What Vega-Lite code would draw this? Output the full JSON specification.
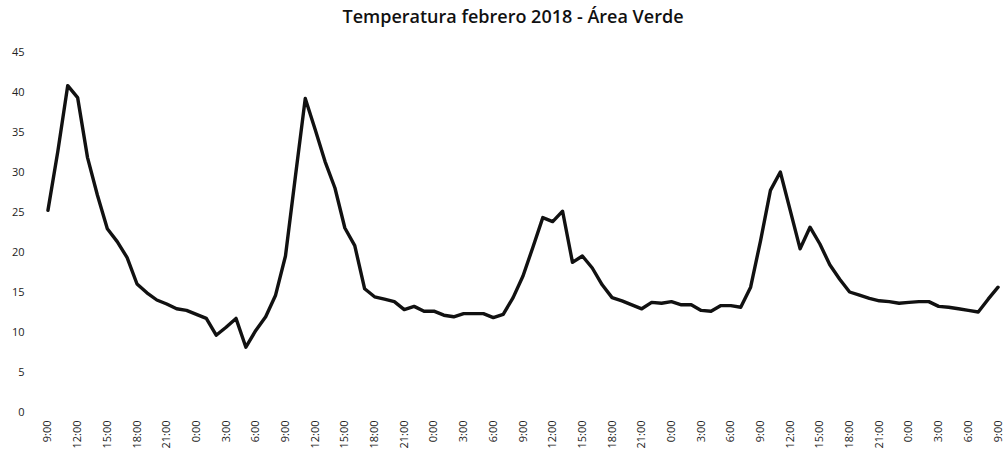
{
  "$schema": "https://vega.github.io/schema/vega-lite/v6.json",
  "autosize": "none",
  "width": 960,
  "height": 360,
  "padding": {"left": 43, "top": 52, "right": 2, "bottom": 63},
  "background": "white",
  "title": {
    "text": "Temperatura febrero 2018 - Área Verde",
    "font": "Open Sans",
    "fontSize": 18,
    "fontWeight": 600,
    "color": "#111",
    "anchor": "middle",
    "offset": 19,
    "dx": -10
  },
  "data": {
    "values": [
      {"h": 0, "t": 25.2}, {"h": 1, "t": 32.6}, {"h": 2, "t": 40.8}, {"h": 3, "t": 39.3},
      {"h": 4, "t": 31.8}, {"h": 5, "t": 27.1}, {"h": 6, "t": 22.9}, {"h": 7, "t": 21.3},
      {"h": 8, "t": 19.3}, {"h": 9, "t": 16.0}, {"h": 10, "t": 14.9}, {"h": 11, "t": 14.0},
      {"h": 12, "t": 13.5}, {"h": 13, "t": 12.9}, {"h": 14, "t": 12.7}, {"h": 15, "t": 12.2},
      {"h": 16, "t": 11.7}, {"h": 17, "t": 9.6}, {"h": 18, "t": 10.6}, {"h": 19, "t": 11.7},
      {"h": 20, "t": 8.1}, {"h": 21, "t": 10.2}, {"h": 22, "t": 11.9}, {"h": 23, "t": 14.6},
      {"h": 24, "t": 19.5}, {"h": 25, "t": 29.4}, {"h": 26, "t": 39.2}, {"h": 27, "t": 35.3},
      {"h": 28, "t": 31.3}, {"h": 29, "t": 28.0}, {"h": 30, "t": 23.0}, {"h": 31, "t": 20.8},
      {"h": 32, "t": 15.4}, {"h": 33, "t": 14.4}, {"h": 34, "t": 14.1}, {"h": 35, "t": 13.8},
      {"h": 36, "t": 12.8}, {"h": 37, "t": 13.2}, {"h": 38, "t": 12.6}, {"h": 39, "t": 12.6},
      {"h": 40, "t": 12.1}, {"h": 41, "t": 11.9}, {"h": 42, "t": 12.3}, {"h": 43, "t": 12.3},
      {"h": 44, "t": 12.3}, {"h": 45, "t": 11.8}, {"h": 46, "t": 12.2}, {"h": 47, "t": 14.3},
      {"h": 48, "t": 17.0}, {"h": 49, "t": 20.6}, {"h": 50, "t": 24.3}, {"h": 51, "t": 23.8},
      {"h": 52, "t": 25.1}, {"h": 53, "t": 18.7}, {"h": 54, "t": 19.5}, {"h": 55, "t": 18.0},
      {"h": 56, "t": 15.9}, {"h": 57, "t": 14.3}, {"h": 58, "t": 13.9}, {"h": 59, "t": 13.4},
      {"h": 60, "t": 12.9}, {"h": 61, "t": 13.7}, {"h": 62, "t": 13.6}, {"h": 63, "t": 13.8},
      {"h": 64, "t": 13.4}, {"h": 65, "t": 13.4}, {"h": 66, "t": 12.7}, {"h": 67, "t": 12.6},
      {"h": 68, "t": 13.3}, {"h": 69, "t": 13.3}, {"h": 70, "t": 13.1}, {"h": 71, "t": 15.6},
      {"h": 72, "t": 21.4}, {"h": 73, "t": 27.7}, {"h": 74, "t": 30.0}, {"h": 75, "t": 25.2},
      {"h": 76, "t": 20.4}, {"h": 77, "t": 23.1}, {"h": 78, "t": 21.0}, {"h": 79, "t": 18.4},
      {"h": 80, "t": 16.6}, {"h": 81, "t": 15.0}, {"h": 82, "t": 14.6}, {"h": 83, "t": 14.2},
      {"h": 84, "t": 13.9}, {"h": 85, "t": 13.8}, {"h": 86, "t": 13.6}, {"h": 87, "t": 13.7},
      {"h": 88, "t": 13.8}, {"h": 89, "t": 13.8}, {"h": 90, "t": 13.2}, {"h": 91, "t": 13.1},
      {"h": 92, "t": 12.9}, {"h": 93, "t": 12.7}, {"h": 94, "t": 12.5}, {"h": 95, "t": 14.1},
      {"h": 96, "t": 15.6}
    ]
  },
  "mark": {"type": "line", "color": "#111", "strokeWidth": 3.4, "strokeJoin": "round", "strokeCap": "round"},
  "encoding": {
    "x": {
      "field": "h",
      "type": "quantitative",
      "scale": {"domain": [-0.5, 96.5], "nice": false, "zero": false},
      "axis": {
        "title": null,
        "values": [0, 3, 6, 9, 12, 15, 18, 21, 24, 27, 30, 33, 36, 39, 42, 45, 48, 51, 54, 57, 60, 63, 66, 69, 72, 75, 78, 81, 84, 87, 90, 93, 96],
        "labelExpr": "((9 + datum.value) % 24) + ':00'",
        "labelAngle": -90,
        "labelAlign": "right",
        "labelBaseline": "middle",
        "labelPadding": 8,
        "labelFont": "Open Sans",
        "labelFontSize": 11,
        "labelColor": "#222",
        "labelOverlap": false,
        "domain": false,
        "ticks": false,
        "grid": false
      }
    },
    "y": {
      "field": "t",
      "type": "quantitative",
      "scale": {"domain": [0, 45], "nice": false},
      "axis": {
        "title": null,
        "values": [0, 5, 10, 15, 20, 25, 30, 35, 40, 45],
        "labelPadding": 19,
        "labelFont": "Open Sans",
        "labelFontSize": 11,
        "labelColor": "#222",
        "domain": false,
        "ticks": false,
        "grid": false
      }
    }
  },
  "config": {"view": {"stroke": null}}
}
